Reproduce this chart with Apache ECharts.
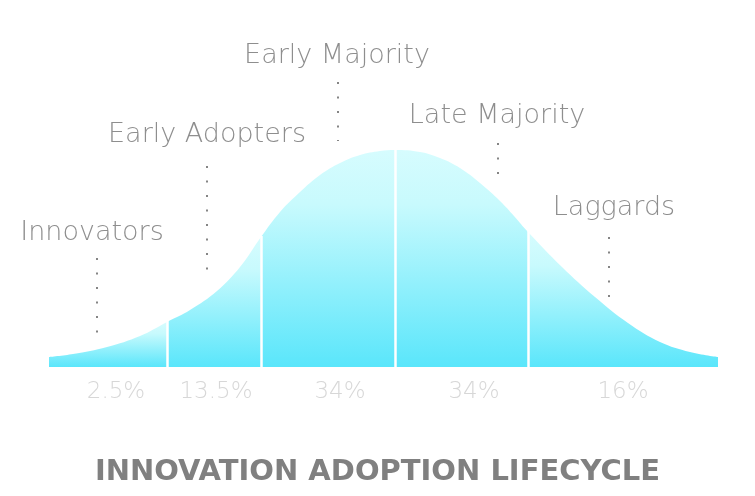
<!DOCTYPE html>
<html>
<head>
<meta charset="utf-8">
<script src="https://cdn.jsdelivr.net/npm/echarts@6/dist/echarts.min.js"></script>
<style>
html,body{margin:0;padding:0;background:#fff;}
#c{width:755px;height:496px;}
</style>
</head>
<body>
<div id="c"></div>
<script>
// Bell curve (x position, height above baseline)
var curveX = [49, 73, 107, 140, 167, 190, 217, 240, 261, 280, 300, 320, 340, 360, 380, 395, 420, 440, 460, 480, 500, 514, 528, 562, 595, 628, 660, 690, 718];
var curveY = [10, 13, 20, 31, 45, 57, 76, 100, 130, 155, 175, 192, 204, 212, 216, 217, 215, 209, 199, 184, 166, 151, 135, 100, 70, 44, 25, 15, 10];
// Segment boundaries along x
var boundaries = [49, 167, 261, 395, 528, 718];

// Group labels
var groupNames = ['Innovators', 'Early Adopters', 'Early Majority', 'Late Majority', 'Laggards'];
var groupLabelX = [92, 207, 337, 497, 614];
var groupLabelY = [134, 232, 311, 251, 159];
// Dotted leader lines: x, top and bottom heights
var leaderX = [97, 207, 338, 498, 609];
var leaderTop = [109, 201, 285, 224, 130];
var leaderBottom = [32, 94, 226, 192, 70];

// Percentage shares
var shares = ['2.5%', '13.5%', '34%', '34%', '16%'];
var shareX = [116, 216, 340, 474, 623];
var shareY = [-25, -25, -25, -25, -25];

var titleText = 'INNOVATION ADOPTION LIFECYCLE';

var X_MIN = 0, X_MAX = 755, Y_MIN = -129, Y_MAX = 367;

function heightAt(x) {
  return curveY[curveX.indexOf(x)];
}

var curveData = curveX.map(function (x, i) { return [x, curveY[i]]; });

// white dividers
var dividerLines = [];
for (var b = 1; b < boundaries.length - 1; b++) {
  dividerLines.push([{ coord: [boundaries[b], 0] }, { coord: [boundaries[b], heightAt(boundaries[b]) + 1] }]);
}
var leaderLines = [];
for (var k = 0; k < leaderX.length; k++) {
  leaderLines.push([{ coord: [leaderX[k], leaderTop[k]] }, { coord: [leaderX[k], leaderBottom[k]] }]);
}

var baseSeries = [
  {
    type: 'scatter', data: [], silent: true, z: 5,
    markLine: {
      silent: true, symbol: ['none', 'none'], animation: false,
      label: { show: false },
      lineStyle: { color: '#ffffff', width: 2.5, type: 'solid' },
      data: dividerLines
    }
  },
  {
    type: 'scatter', data: [], silent: true, z: 5,
    markLine: {
      silent: true, symbol: ['none', 'none'], animation: false,
      label: { show: false },
      lineStyle: { color: '#858585', width: 2, type: [2, 12.5], cap: 'butt' },
      data: leaderLines
    }
  },
  {
    type: 'scatter', clip: false, symbolSize: 1,
    itemStyle: { color: 'rgba(0,0,0,0)' }, silent: true, z: 6,
    data: groupNames.map(function (n, i) { return { name: n, value: [groupLabelX[i], groupLabelY[i]] }; }),
    label: {
      show: true, position: 'inside', formatter: '{b}',
      fontFamily: 'DejaVu Sans', fontWeight: 200, fontSize: 27, color: '#727272'
    }
  },
  {
    type: 'scatter', clip: false, symbolSize: 1,
    itemStyle: { color: 'rgba(0,0,0,0)' }, silent: true, z: 6,
    data: shares.map(function (n, i) { return { name: n, value: [shareX[i], shareY[i]] }; }),
    label: {
      show: true, position: 'inside', formatter: '{b}',
      fontFamily: 'DejaVu Sans', fontWeight: 200, fontSize: 23, color: '#cdcdcd'
    }
  }
];

var chart = echarts.init(document.getElementById('c'));
var grids = [{ left: 0, right: 0, top: 0, bottom: 0 }];
var xAxes = [{ type: 'value', min: X_MIN, max: X_MAX, show: false, gridIndex: 0 }];
var yAxes = [{ type: 'value', min: Y_MIN, max: Y_MAX, show: false, gridIndex: 0 }];

chart.setOption({
  animation: false,
  backgroundColor: '#ffffff',
  title: {
    text: titleText, left: 'center', top: 453,
    textStyle: { fontFamily: 'DejaVu Sans', fontWeight: 'bold', fontSize: 29, color: '#808080' }
  },
  grid: grids, xAxis: xAxes, yAxis: yAxes,
  series: baseSeries
});

// One clipped grid per segment so the whole curve is smoothed as one shape,
// while each segment gets its own vertical gradient.
var segSeries = [];
var basePx = chart.convertToPixel({ yAxisIndex: 0 }, 0);
for (var s = 0; s < boundaries.length - 1; s++) {
  var l = chart.convertToPixel({ xAxisIndex: 0 }, boundaries[s]);
  var r = chart.convertToPixel({ xAxisIndex: 0 }, boundaries[s + 1]);
  var segMax = 0;
  for (var i = 0; i < curveX.length; i++) {
    if (curveX[i] >= boundaries[s] && curveX[i] <= boundaries[s + 1]) segMax = Math.max(segMax, curveY[i]);
  }
  var topPx = chart.convertToPixel({ yAxisIndex: 0 }, segMax);
  grids.push({ left: l, width: r - l, top: 0, bottom: 0 });
  xAxes.push({ type: 'value', min: boundaries[s], max: boundaries[s + 1], show: false, gridIndex: s + 1 });
  yAxes.push({ type: 'value', min: Y_MIN, max: Y_MAX, show: false, gridIndex: s + 1 });
  segSeries.push({
    type: 'line',
    xAxisIndex: s + 1, yAxisIndex: s + 1,
    data: curveData,
    smooth: 0.4,
    clip: true,
    showSymbol: false, symbol: 'none',
    lineStyle: { width: 0, opacity: 0 },
    areaStyle: {
      opacity: 1,
      color: {
        type: 'linear', x: 0, y: topPx, x2: 0, y2: basePx, global: true,
        colorStops: [
          { offset: 0, color: '#d6fcfe' },
          { offset: 0.25, color: '#c8fafd' },
          { offset: 1, color: '#5ae6fb' }
        ]
      }
    },
    z: 2, silent: true
  });
}

chart.setOption({
  grid: grids, xAxis: xAxes, yAxis: yAxes,
  series: baseSeries.concat(segSeries)
});
</script>
</body>
</html>
